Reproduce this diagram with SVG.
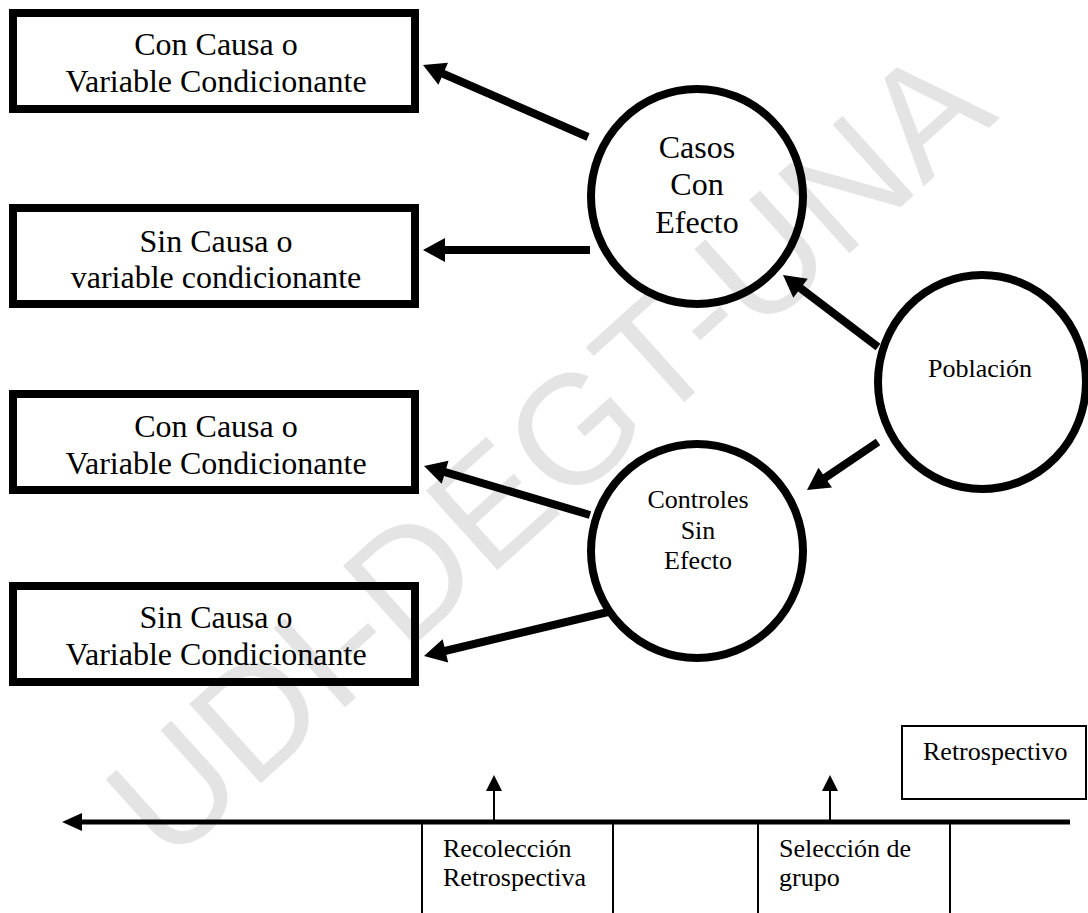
<svg xmlns="http://www.w3.org/2000/svg" width="1088" height="913" viewBox="0 0 1088 913">
<style>
.box{fill:none;stroke:#000;stroke-width:8}
.circ{fill:none;stroke:#000;stroke-width:8}
.t32{font-family:"Liberation Serif","Times New Roman",serif;font-size:32px;fill:#000;text-anchor:middle}
.t26{font-family:"Liberation Serif","Times New Roman",serif;font-size:26px;fill:#000;text-anchor:middle}
.t26l{font-family:"Liberation Serif","Times New Roman",serif;font-size:26px;fill:#000}
.thick{stroke:#000;stroke-width:8;fill:none}
.thin{stroke:#000;stroke-width:2;fill:none}
.head{fill:#000;stroke:none}
.wm{font-family:"Liberation Sans",Arial,sans-serif;font-size:155px;fill:#e4e4e4;text-anchor:middle}
</style>
<rect width="1088" height="913" fill="#fff"/>
<text class="wm" transform="translate(548,452) rotate(-42)" x="0" y="54">UDI-DEGT-UNA</text>

<g id="box-con-causa-1">
<rect class="box" x="13" y="13" width="402" height="96"/>
<text class="t32" x="216" y="55">Con Causa o</text>
<text class="t32" x="216" y="92">Variable Condicionante</text>
</g>
<g id="box-sin-causa-1">
<rect class="box" x="13" y="208" width="402" height="96"/>
<text class="t32" x="216" y="252">Sin Causa o</text>
<text class="t32" x="216" y="288">variable condicionante</text>
</g>
<g id="box-con-causa-2">
<rect class="box" x="13" y="394" width="402" height="96"/>
<text class="t32" x="216" y="437">Con Causa o</text>
<text class="t32" x="216" y="474">Variable Condicionante</text>
</g>
<g id="box-sin-causa-2">
<rect class="box" x="13" y="586" width="402" height="96"/>
<text class="t32" x="216" y="628">Sin Causa o</text>
<text class="t32" x="216" y="665">Variable Condicionante</text>
</g>
<g id="casos">
<ellipse class="circ" cx="697" cy="196.5" rx="106" ry="107.5"/>
<text class="t32" x="697" y="158">Casos</text>
<text class="t32" x="697" y="195">Con</text>
<text class="t32" x="697" y="233">Efecto</text>
</g>
<g id="controles">
<ellipse class="circ" cx="697" cy="551" rx="106" ry="107"/>
<text class="t26" x="698" y="508">Controles</text>
<text class="t26" x="698" y="539">Sin</text>
<text class="t26" x="698" y="569">Efecto</text>
</g>
<g id="poblacion">
<ellipse class="circ" cx="982" cy="382" rx="104" ry="107"/>
<text class="t26" x="980" y="377">Población</text>
</g>
<g id="retrospectivo">
<rect class="thin" x="902" y="726" width="184" height="73"/>
<text class="t26l" x="923" y="760">Retrospectivo</text>
</g>
<g id="timeline">
<line class="thin" x1="422" y1="822" x2="422" y2="913"/>
<line class="thin" x1="613" y1="822" x2="613" y2="913"/>
<line class="thin" x1="758" y1="822" x2="758" y2="913"/>
<line class="thin" x1="950" y1="822" x2="950" y2="913"/>
<text class="t26l" x="443" y="857">Recolección</text>
<text class="t26l" x="443" y="886">Retrospectiva</text>
<text class="t26l" x="779" y="857">Selección de</text>
<text class="t26l" x="779" y="886">grupo</text>
</g>
<g id="connectors">
<line class="thick" x1="588" y1="137" x2="436.75" y2="71"/>
<polygon class="head" points="423,65 447.97,62.8 438.37,84.8"/>
<line class="thick" x1="590" y1="250" x2="438" y2="250"/>
<polygon class="head" points="423,250 445,238 445,262"/>
<line class="thick" x1="878" y1="347" x2="794.96" y2="284.06"/>
<polygon class="head" points="783,275 807.78,278.73 793.28,297.85"/>
<line class="thick" x1="878" y1="442" x2="819.43" y2="481.6"/>
<polygon class="head" points="807,490 818.51,467.74 831.95,487.62"/>
<line class="thick" x1="590" y1="515" x2="438.4" y2="470.2"/>
<polygon class="head" points="424,466 448.5,460.7 441.7,483.7"/>
<line class="thick" x1="608" y1="612" x2="438.6" y2="652.5"/>
<polygon class="head" points="424,656 442.6,639.2 448.2,662.6"/>
<line x1="1070" y1="822" x2="76" y2="822" stroke="#000" stroke-width="5"/>
<polygon class="head" points="62,822 82,813 82,831"/>
<line class="thin" x1="494" y1="820" x2="494" y2="788"/>
<polygon class="head" points="494,775 486,791 502,791"/>
<line class="thin" x1="830" y1="820" x2="830" y2="788"/>
<polygon class="head" points="830,775 822,791 838,791"/>
</g>
</svg>
